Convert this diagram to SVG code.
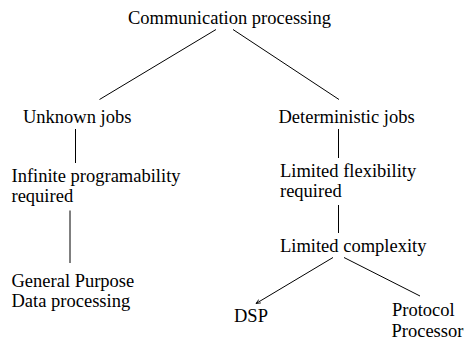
<svg xmlns="http://www.w3.org/2000/svg" width="465" height="340" viewBox="0 0 465 340">
  <style>
    text { font-family: 'Liberation Serif', Tinos, 'DejaVu Serif', serif; font-size: 18.5px; fill: #000; }
    .edge { stroke: #000; stroke-width: 1; fill: none; }
  </style>
  <defs>
    <!-- small open chevron at the end of the DSP branch -->
    <marker id="tip" viewBox="0 0 10 10" refX="9" refY="5" markerWidth="5" markerHeight="5" orient="auto" markerUnits="userSpaceOnUse">
      <path d="M0,1 L9,5 L0,9" fill="none" stroke="#000" stroke-width="1.6"/>
    </marker>
  </defs>
  <rect width="465" height="340" fill="#fff"/>

  <g id="connectors">
    <line class="edge" x1="216" y1="29.5" x2="99.5" y2="99.5"/>
    <line class="edge" x1="233" y1="29.5" x2="339" y2="99.5"/>
    <line class="edge" x1="75.5" y1="129" x2="75.5" y2="163"/>
    <line class="edge" x1="70" y1="210.5" x2="70" y2="263"/>
    <line class="edge" x1="338.5" y1="129" x2="338.5" y2="158"/>
    <line class="edge" x1="338.5" y1="205" x2="338.5" y2="233"/>
    <line class="edge" x1="333" y1="257.5" x2="256" y2="303.5" marker-end="url(#tip)"/>
    <line class="edge" x1="344" y1="257.5" x2="420" y2="296"/>
  </g>

  <g id="root"><text x="128" y="24">Communication processing</text></g>
  <g id="unknown"><text x="23" y="123">Unknown jobs</text></g>
  <g id="infinite"><text x="11.5" y="182">Infinite programability</text><text x="11.5" y="202">required</text></g>
  <g id="general"><text x="11.5" y="287">General Purpose</text><text x="11.5" y="307">Data processing</text></g>
  <g id="deterministic"><text x="278.5" y="123">Deterministic jobs</text></g>
  <g id="flexibility"><text x="280" y="177">Limited flexibility</text><text x="280" y="196.5">required</text></g>
  <g id="complexity"><text x="280" y="252">Limited complexity</text></g>
  <g id="dsp"><text x="234" y="322">DSP</text></g>
  <g id="protocol"><text x="392" y="316">Protocol</text><text x="391.5" y="337">Processor</text></g>
</svg>
